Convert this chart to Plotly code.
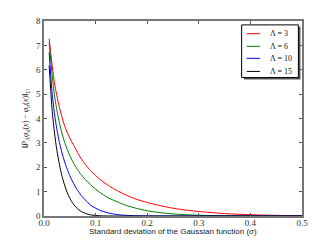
import plotly.graph_objects as go

# Data
sigma_red = [0.01, 0.02, 0.03, 0.04, 0.05, 0.06, 0.07, 0.08, 0.09, 0.1, 0.11, 0.12, 0.13, 0.14, 0.15, 0.16, 0.17, 0.18, 0.2, 0.22, 0.25, 0.28, 0.3, 0.35, 0.4, 0.45, 0.5]
vals_red = [7.28, 5.5, 4.45, 3.7, 3.2, 2.8, 2.42, 2.12, 1.87, 1.66, 1.48, 1.32, 1.18, 1.06, 0.95, 0.85, 0.76, 0.68, 0.555, 0.45, 0.32, 0.23, 0.185, 0.1, 0.052, 0.025, 0.012]

sigma_green = [0.01, 0.02, 0.03, 0.04, 0.05, 0.06, 0.07, 0.08, 0.09, 0.1, 0.11, 0.12, 0.13, 0.14, 0.16, 0.18, 0.2, 0.22, 0.25, 0.3, 0.35, 0.4, 0.45, 0.5]
vals_green = [7.1, 5.0, 3.8, 3.02, 2.48, 2.07, 1.75, 1.5, 1.29, 1.1, 0.94, 0.8, 0.69, 0.6, 0.43, 0.31, 0.215, 0.15, 0.085, 0.032, 0.012, 0.004, 0.001, 0.0]

sigma_blue = [0.01, 0.015, 0.02, 0.025, 0.03, 0.035, 0.04, 0.045, 0.05, 0.055, 0.06, 0.065, 0.07, 0.08, 0.09, 0.1, 0.11, 0.12, 0.13, 0.14, 0.15, 0.16, 0.18, 0.2, 0.25, 0.5]
vals_blue = [6.72, 5.22, 4.25, 3.55, 3.01, 2.58, 2.22, 1.92, 1.655, 1.43, 1.23, 1.05, 0.9, 0.66, 0.45, 0.32, 0.22, 0.15, 0.1, 0.065, 0.041, 0.025, 0.009, 0.003, 0.0, 0.0]

sigma_black = [0.01, 0.015, 0.02, 0.025, 0.03, 0.035, 0.04, 0.045, 0.05, 0.055, 0.06, 0.065, 0.07, 0.08, 0.09, 0.1, 0.11, 0.12, 0.15, 0.5]
vals_black = [6.18, 4.55, 3.47, 2.69, 2.1, 1.63, 1.26, 0.96, 0.73, 0.55, 0.405, 0.296, 0.212, 0.106, 0.048, 0.02, 0.008, 0.003, 0.0, 0.0]

labels = ["Λ = 3", "Λ = 6", "Λ = 10", "Λ = 15"]
colors = ["#ff0000", "#008000", "#0000ff", "#000000"]
xs_all = [sigma_red, sigma_green, sigma_blue, sigma_black]
ys_all = [vals_red, vals_green, vals_blue, vals_black]

x_ticks = [0.0, 0.1, 0.2, 0.3, 0.4, 0.5]
x_ticklabels = ["0.0", "0.1", "0.2", "0.3", "0.4", "0.5"]
y_ticks = [0, 1, 2, 3, 4, 5, 6, 7, 8]

x_title = "Standard deviation of the Gaussian function (<i>σ</i>)"
y_title = "‖<i>P</i><sub>Λ</sub><i>φ</i><sub>σ</sub>(<i>x</i>) − <i>φ</i><sub>σ</sub>(<i>x</i>)‖<sub><i>L</i>²</sub>"

fig = go.Figure()
for name, xs, ys, col in zip(labels, xs_all, ys_all, colors):
    fig.add_trace(go.Scatter(x=xs, y=ys, mode="lines", name=name, showlegend=False,
                             line=dict(color=col, width=1, shape="spline", smoothing=0.8)))

serif = "Liberation Serif"
axis_common = dict(showline=True, mirror="allticks", linecolor="#777777", linewidth=1.5,
                   ticks="inside", ticklen=3, tickcolor="#555555", tickwidth=1,
                   showgrid=False, zeroline=False,
                   tickfont=dict(family=serif, size=9, color="#333333"))

# Hand-built legend box (matplotlib style with shadow)
shapes = [
    dict(type="rect", xref="paper", yref="paper", x0=0.775, x1=0.994, y0=0.70, y1=0.97,
         fillcolor="#555555", line=dict(width=0), layer="above"),
    dict(type="rect", xref="paper", yref="paper", x0=0.766, x1=0.986, y0=0.71, y1=0.98,
         fillcolor="white", line=dict(color="#000000", width=1), layer="above"),
]
annotations = []
row_y = [0.935, 0.87, 0.8085, 0.7415]
for lab, col, ry in zip(labels, colors, row_y):
    shapes.append(dict(type="line", xref="paper", yref="paper", x0=0.786, x1=0.837, y0=ry, y1=ry,
                       line=dict(color=col, width=1), layer="above"))
    annotations.append(dict(xref="paper", yref="paper", x=0.868, y=ry, xanchor="left", yanchor="middle",
                            text=lab, showarrow=False,
                            font=dict(family=serif, size=8, color="#111111")))

# x-axis title placed as an annotation just below the tick labels
annotations.append(dict(xref="paper", yref="paper", x=0.5, y=-0.082, xanchor="center", yanchor="middle",
                        text=x_title, showarrow=False,
                        font=dict(family="Liberation Sans", size=8, color="#222222")))

# The page body has an 8px default margin, so the figure is sized and padded to fit.
fig.update_layout(
    width=325, height=241,
    margin=dict(l=36, r=31, t=8, b=33),
    plot_bgcolor="white", paper_bgcolor="white",
    xaxis=dict(range=[0, 0.5], tickvals=x_ticks, ticktext=x_ticklabels,
               ticklabelstandoff=-3, **axis_common),
    yaxis=dict(range=[0, 8], tickvals=y_ticks,
               title=dict(text=y_title, font=dict(family=serif, size=8, color="#222222"), standoff=6),
               **axis_common),
    shapes=shapes,
    annotations=annotations,
    showlegend=False,
)

fig.write_html("out.html")
